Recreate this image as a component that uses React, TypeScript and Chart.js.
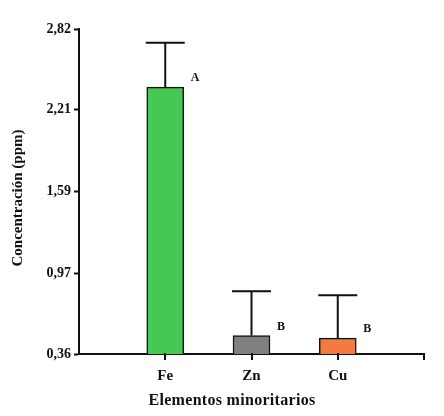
import React, { useEffect, useRef } from "react";
import { Chart, registerables } from "chart.js";

Chart.register(...registerables);

// Minor elements and their mean concentration (ppm)
const categories = ["Fe", "Zn", "Cu"];
const means = [2.38, 0.5, 0.48];
const errors = [0.335, 0.335, 0.325];
const letters = ["A", "B", "B"];
const barColors = ["#45c952", "#808080", "#f47a3d"];
const yTicks = [0.36, 0.97, 1.59, 2.21, 2.82];
const xTitle = "Elementos minoritarios";
const yTitle = "Concentración (ppm)";

const FONT = "'Liberation Serif', 'Times New Roman', serif";

// Empty slots at both ends so the bars sit between the axis ends
const labels = ["", ...categories, ""];
const padded = (arr: any[]) => [null, ...arr, null];

const errorBarPlugin = {
  id: "errorBars",
  afterDraw(chart: any) {
    const { ctx, chartArea } = chart;
    const meta = chart.getDatasetMeta(0);
    const x = chart.scales.x;
    const y = chart.scales.y;
    ctx.save();
    ctx.strokeStyle = "#111";
    ctx.lineWidth = 2;
    ctx.fillStyle = "#111";

    // x-axis tick marks below the baseline: one per category and one at the end
    const base = Math.round(chartArea.bottom);
    for (let i = 1; i < labels.length; i++) {
      const px = Math.round(x.getPixelForValue(i));
      ctx.beginPath();
      ctx.moveTo(px, base - 1);
      ctx.lineTo(px, base + 6);
      ctx.stroke();
    }

    ctx.font = `bold 12px ${FONT}`;
    ctx.textAlign = "left";
    ctx.textBaseline = "middle";
    categories.forEach((_, i) => {
      const bar = meta.data[i + 1];
      if (!bar) return;
      const top = y.getPixelForValue(means[i]);
      const capY = y.getPixelForValue(means[i] + errors[i]);
      const half = bar.width / 2 + 1;
      ctx.beginPath();
      ctx.moveTo(bar.x, top);
      ctx.lineTo(bar.x, capY);
      ctx.moveTo(bar.x - half, capY);
      ctx.lineTo(bar.x + half, capY);
      ctx.stroke();
      ctx.fillText(letters[i], bar.x + bar.width / 2 + 7, top - 9);
    });

    // axis titles
    ctx.font = `bold 16px ${FONT}`;
    ctx.textAlign = "center";
    (ctx as any).letterSpacing = "0.3px";
    ctx.fillText(xTitle, chartArea.left + 153, 401);
    ctx.font = `bold 15px ${FONT}`;
    (ctx as any).letterSpacing = "0px";
    ctx.translate(18, 198);
    ctx.rotate(-Math.PI / 2);
    ctx.fillText(yTitle, 0, 0);
    ctx.restore();
  },
};

export default function App() {
  const canvasRef = useRef<HTMLCanvasElement | null>(null);

  useEffect(() => {
    document.body.style.margin = "0";
    const canvas = canvasRef.current;
    if (!canvas) return;
    const chart = new Chart(canvas, {
      type: "bar",
      data: {
        labels,
        datasets: [
          {
            data: padded(means),
            backgroundColor: padded(barColors),
            borderColor: "#111",
            borderWidth: 1.5,
            borderSkipped: false,
            barThickness: 37,
          },
        ],
      },
      options: {
        responsive: false,
        animation: false,
        layout: { padding: { top: 29, right: 20, left: 0, bottom: 0 } },
        plugins: {
          legend: { display: false },
          tooltip: { enabled: false },
        },
        scales: {
          x: {
            offset: false,
            grid: { display: false },
            border: { display: true, color: "#111", width: 2 },
            ticks: {
              color: "#111",
              font: { family: FONT, size: 15, weight: "bold" },
              padding: 5,
              maxRotation: 0,
              autoSkip: false,
            },
            afterFit(scale: any) {
              scale.height = 62;
            },
          },
          y: {
            min: 0.36,
            max: 2.82,
            afterBuildTicks(scale: any) {
              scale.ticks = yTicks.map((v) => ({ value: v }));
            },
            grid: {
              display: true,
              drawOnChartArea: false,
              drawTicks: true,
              tickLength: 5,
              tickWidth: 2,
              color: "#111",
            },
            border: { color: "#111", width: 2 },
            ticks: {
              color: "#111",
              font: { family: FONT, size: 14, weight: "bold" },
              padding: 3,
              callback: (v: any) => Number(v).toFixed(2).replace(".", ","),
            },
            afterFit(scale: any) {
              scale.width = 79;
            },
          },
        },
      },
      plugins: [errorBarPlugin],
    });
    return () => chart.destroy();
  }, []);

  return (
    <div style={{ width: 444, height: 416, background: "#fff" }}>
      <canvas ref={canvasRef} width={444} height={416} />
    </div>
  );
}
